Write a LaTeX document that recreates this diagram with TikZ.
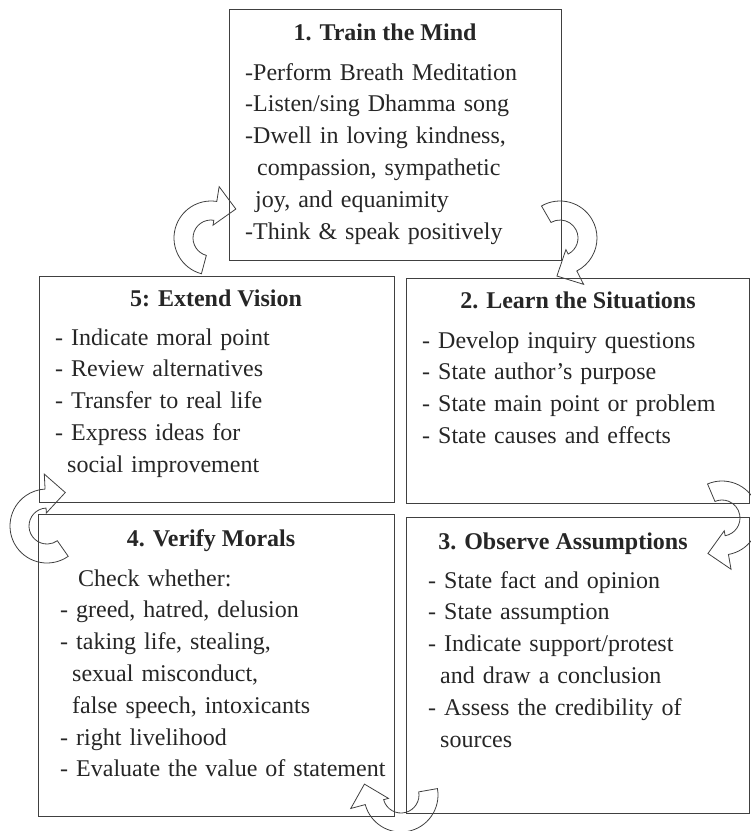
\documentclass[tikz,border=0pt]{standalone}
\usepackage{fontspec}
\setmainfont{Liberation Serif}
\usetikzlibrary{calc}

% hollow curved arrow, turning clockwise round a centre
\newcommand{\cyclearrow}[3]{%
  \draw[turn, shift={#1}] (#2:37pt) arc[start angle=#2, end angle=#3, radius=37pt]
    -- (#3:52pt) -- ($(#3:32.5pt)!20pt!90:(0,0)$) -- (#3:13pt) -- (#3:18pt)
    arc[start angle=#3, end angle=#2, radius=18pt] -- cycle;}

\begin{document}
\begin{tikzpicture}[x=1pt, y=1pt,
    box/.style={draw=black!75, line width=0.9pt},
    turn/.style={draw=black!75, line width=0.8pt},
    title/.style={anchor=base, inner sep=0pt, text=black!85,
                  font=\fontsize{24pt}{31.8pt}\selectfont\bfseries},
    items/.style={anchor=base west, inner sep=0pt, text=black!85, text width=340pt,
                  align=left, font=\fontsize{24pt}{31.8pt}\selectfont}]
    \useasboundingbox (0, 0) rectangle (751, -831);
    % the five boxes
    \draw[box] (229, -9) rectangle (561, -260);
    \draw[box] (39, -276) rectangle (394, -502);
    \draw[box] (406, -278) rectangle (749, -503);
    \draw[box] (38, -514) rectangle (394, -816);
    \draw[box] (406, -517) rectangle (749, -813);

    \node[title] (mind) at (385, -40) {1. Train the Mind};
    \node[items] (mindlist) at (245, -80) {-Perform Breath Meditation\\
      -Listen/sing Dhamma song\\
      -Dwell in loving kindness,\\
      \hspace*{12pt}compassion, sympathetic\\
      \hspace*{10pt}joy, and equanimity\\
      -Think \& speak positively};

    \node[title] (vision) at (216, -306) {5: Extend Vision};
    \node[items] (visionlist) at (55, -345) {- Indicate moral point\\
      - Review alternatives\\
      - Transfer to real life\\
      - Express ideas for\\
      \hspace*{12pt}social improvement};

    \node[title] (situation) at (578, -308) {2. Learn the Situations};
    \node[items] (situationlist) at (422, -348) {- Develop inquiry questions\\
      - State author’s purpose\\
      - State main point or problem\\
      - State causes and effects};

    \node[title] (moral) at (211, -546) {4. Verify Morals};
    \node[items] (morallist) at (60, -586) {\hspace*{18pt}Check whether:\\
      - greed, hatred, delusion\\
      - taking life, stealing,\\
      \hspace*{12pt}sexual misconduct,\\
      \hspace*{12pt}false speech, intoxicants\\
      - right livelihood\\
      - Evaluate the value of statement};

    \node[title] (assume) at (563, -549) {3. Observe Assumptions};
    \node[items] (assumelist) at (428, -588) {- State fact and opinion\\
      - State assumption\\
      - Indicate support/protest\\
      \hspace*{12pt}and draw a conclusion\\
      - Assess the credibility of\\
      \hspace*{12pt}sources};

    % turning arrows between the boxes
    \cyclearrow{(211, -238)}{255}{81}
    \cyclearrow{(560, -238)}{120}{-63}
    \cyclearrow{(722, -518)}{113}{-80}
    \cyclearrow{(401, -795)}{10}{-165}
    \cyclearrow{(47, -526)}{305}{93}
  \end{tikzpicture}
\end{document}
